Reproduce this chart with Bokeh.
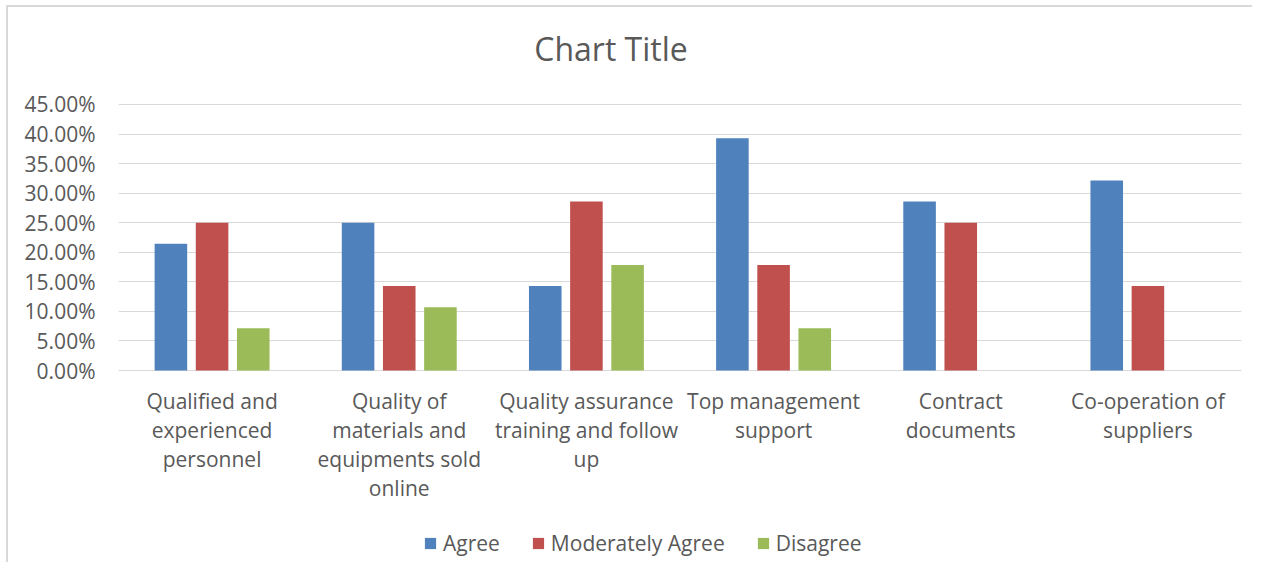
from bokeh.plotting import figure
from bokeh.models import (FactorRange, Range1d, NumeralTickFormatter, FixedTicker,
                          Legend, LegendItem, Label, ColumnDataSource)
from bokeh.transform import dodge
from bokeh.embed import file_html
from bokeh.resources import INLINE

# ---- data ----
categories = [
    "Qualified and experienced personnel",
    "Quality of materials and equipments sold online",
    "Quality assurance training and follow up",
    "Top management support",
    "Contract documents",
    "Co-operation of suppliers",
]
category_labels = [
    "Qualified and\nexperienced\npersonnel",
    "Quality of\nmaterials and\nequipments sold\nonline",
    "Quality assurance\ntraining and follow\nup",
    "Top management\nsupport",
    "Contract\ndocuments",
    "Co-operation of\nsuppliers",
]
agree = [0.2143, 0.2500, 0.1429, 0.3929, 0.2857, 0.3214]
moderately_agree = [0.2500, 0.1429, 0.2857, 0.1786, 0.2500, 0.1429]
disagree = [0.0714, 0.1071, 0.1786, 0.0714, 0.0, 0.0]
series_names = ["Agree", "Moderately Agree", "Disagree"]
series_colors = ["#4F81BD", "#C0504D", "#9BBB59"]
y_ticks = [0.0, 0.05, 0.10, 0.15, 0.20, 0.25, 0.30, 0.35, 0.40, 0.45]
chart_title = "Chart Title"

FONT = "Open Sans"
TEXT = "#595959"
GRID = "#D9D9D9"

source = ColumnDataSource(dict(
    cat=categories,
    label=category_labels,
    base=[0.0] * len(categories),
    agree=agree,
    moderately_agree=moderately_agree,
    disagree=disagree,
))

# frame spans nearly the full height; value axis 0..45% occupies the middle band
W, H = 1252, 562
p = figure(
    width=W, height=H,
    x_range=FactorRange(factors=categories),
    y_range=Range1d(-0.3248, 0.6124),
    output_backend="svg", toolbar_location=None,
    min_border_left=118, min_border_right=11,
    min_border_top=8, min_border_bottom=0,
)
p.outline_line_color = None
p.background_fill_color = "white"
p.border_fill_color = "white"
p.border_fill_alpha = 0
p.styles = {"box-shadow": "inset 6px 5px 0 0 white, inset 8px 7px 0 0 #D9D9D9"}

offsets = [-0.22, 0.0, 0.22]
fields = ["agree", "moderately_agree", "disagree"]
renderers = []
for f, off, col in zip(fields, offsets, series_colors):
    r = p.vbar(x=dodge("cat", off, range=p.x_range), top=f, width=0.174,
               source=source, fill_color=col, line_color=None)
    renderers.append(r)

# category labels under the zero line
p.text(x="cat", y="base", text="label", source=source,
       text_align="center", text_baseline="top", y_offset=16,
       text_font={"value": FONT}, text_font_size={"value": "21px"},
       text_color=TEXT, text_line_height=1.04)

# axes
p.xaxis.visible = False
p.yaxis.ticker = FixedTicker(ticks=y_ticks)
p.yaxis.formatter = NumeralTickFormatter(format="0.00%")
ax = p.yaxis[0]
ax.axis_line_color = None
ax.major_tick_line_color = None
ax.minor_tick_line_color = None
ax.major_label_text_font = FONT
ax.major_label_text_font_size = "21px"
ax.major_label_text_color = TEXT
ax.major_label_standoff = 17

p.xgrid.grid_line_color = None
p.ygrid.grid_line_color = GRID
p.ygrid.grid_line_width = 1

# title (screen units, relative to the plot frame)
p.add_layout(Label(x=492.5, y=H - 48, x_units="screen", y_units="screen",
                   text=chart_title, text_align="center", text_baseline="middle",
                   text_font=FONT, text_font_size="32px", text_color=TEXT))

# legend
legend = Legend(
    items=[LegendItem(label=n, renderers=[r]) for n, r in zip(series_names, renderers)],
    orientation="horizontal", location=(305, 5),
    border_line_color=None, background_fill_alpha=0,
    padding=0, margin=0, spacing=31,
    glyph_width=14, glyph_height=14, label_standoff=6,
    label_text_font=FONT, label_text_font_size="21px", label_text_color=TEXT,
)
p.add_layout(legend, "center")

open("out.html", "w").write(file_html(p, INLINE))
